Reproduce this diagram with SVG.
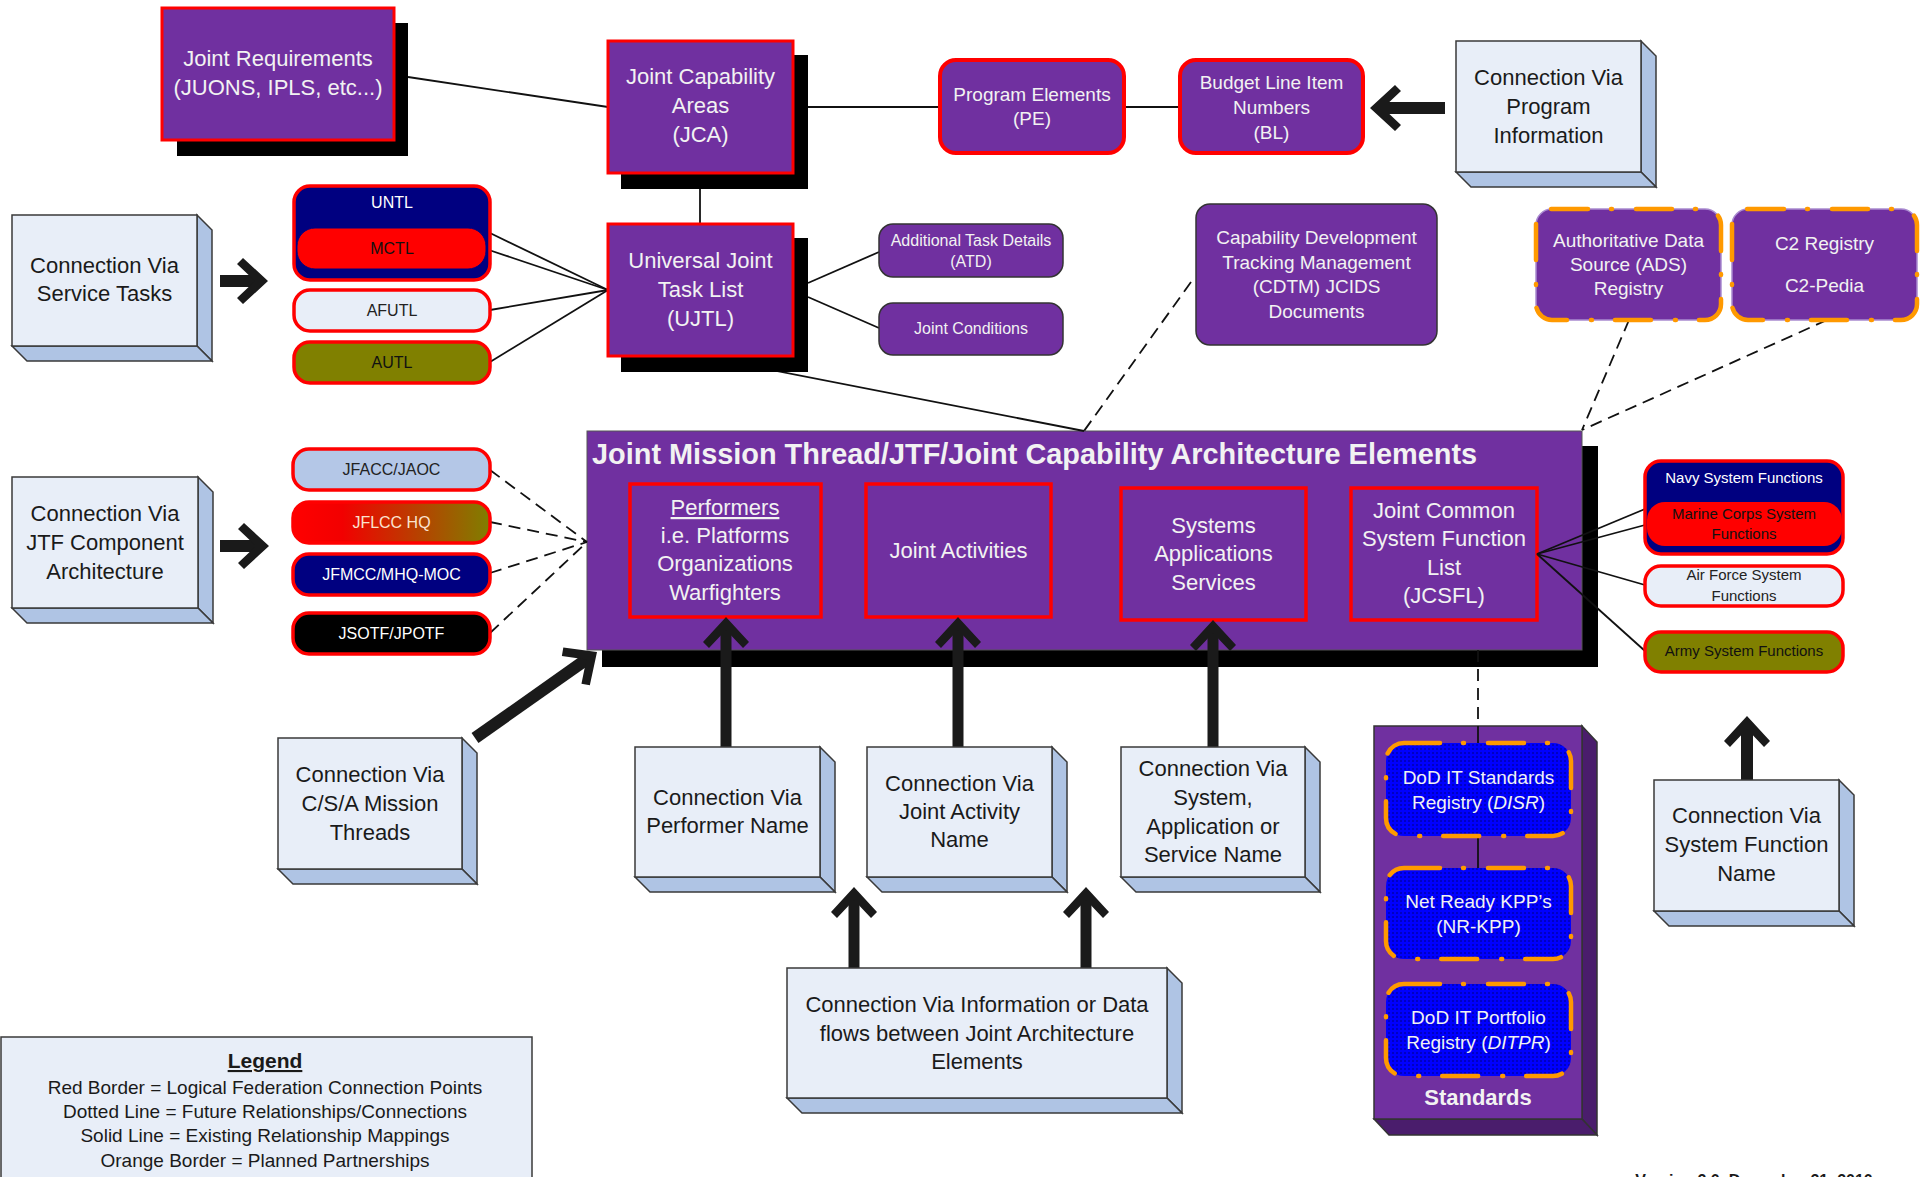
<svg xmlns="http://www.w3.org/2000/svg" xmlns:xlink="http://www.w3.org/1999/xlink" width="1920" height="1177" viewBox="0 0 1920 1177">
<style>
text{font-family:"Liberation Sans",Arial,sans-serif;text-anchor:middle}
.w{fill:#F2F2F2}
.k{fill:#1a1a1a}
.f22{font-size:22px}
.f19{font-size:19px}
.f16{font-size:16px}
.f15{font-size:15px}
.b{font-weight:bold}
.pur{fill:#7030A0}
.redb{stroke:#FF0000;stroke-width:3.5}
.shadow{fill:#000}
.front{fill:#E8EEF8;stroke:#3a3a3a;stroke-width:1.5}
.side{fill:#AFC4E4;stroke:#3a3a3a;stroke-width:1.5}
.dk{stroke:#333;stroke-width:1.5}
.org{fill:none;stroke:#FF9900;stroke-width:4.5;stroke-dasharray:36 23 1 24;stroke-linecap:round}
.lav{stroke:#A98AD0;stroke-width:1.5}
.ln{stroke:#111;stroke-width:1.8;fill:none}
.ds{stroke:#111;stroke-width:1.8;fill:none;stroke-dasharray:12 7}
.shaft{stroke:#1a1a1a;fill:none}
</style>
<defs>
<path id="ah" d="M0,0 L23,25 L17,31 L0,13 L-17,31 L-23,25 Z" fill="#1a1a1a"/>
<linearGradient id="jflcc" x1="0" y1="0" x2="1" y2="0">
<stop offset="0" stop-color="#FF0000"/>
<stop offset="0.25" stop-color="#F20000"/>
<stop offset="1" stop-color="#7F7F00"/>
</linearGradient>
<pattern id="dots" width="4" height="4" patternUnits="userSpaceOnUse">
<rect width="4" height="4" fill="#0000FF"/>
<circle cx="1" cy="1" r="0.75" fill="#000066"/>
</pattern>
</defs>

<!-- Main JMT container -->
<g id="jmt">
<rect x="602" y="446" width="996" height="221" class="shadow"/>
<rect x="587" y="431" width="995" height="219" class="pur" stroke="#555" stroke-width="1"/>
<text x="592" y="464" class="w b" style="font-size:28.9px;text-anchor:start">Joint Mission Thread/JTF/Joint Capability Architecture Elements</text>
</g>
<g id="performers">
<rect x="630" y="484" width="191" height="133" class="pur redb"/>
<text class="w f22" x="725" y="515" text-decoration="underline">Performers</text>
<text class="w f22" x="725" y="543">i.e. Platforms</text>
<text class="w f22" x="725" y="571">Organizations</text>
<text class="w f22" x="725" y="600">Warfighters</text>
</g>
<g id="joint-activities">
<rect x="866" y="484" width="185" height="133" class="pur redb"/>
<text class="w f22" x="958.5" y="558">Joint Activities</text>
</g>
<g id="systems">
<rect x="1121" y="488" width="185" height="132" class="pur redb"/>
<text class="w f22" x="1213.5" y="533">Systems</text>
<text class="w f22" x="1213.5" y="561">Applications</text>
<text class="w f22" x="1213.5" y="590">Services</text>
</g>
<g id="jcsfl">
<rect x="1351" y="488" width="186" height="132" class="pur redb"/>
<text class="w f22" x="1444" y="518">Joint Common</text>
<text class="w f22" x="1444" y="546">System Function</text>
<text class="w f22" x="1444" y="575">List</text>
<text class="w f22" x="1444" y="603">(JCSFL)</text>
</g>

<!-- Standards container -->
<g id="standards">
<polygon points="1582,726 1597,742 1597,1135 1582,1119" fill="#4A1D6C" stroke="#333" stroke-width="1.5"/>
<polygon points="1374,1119 1582,1119 1597,1135 1389,1135" fill="#4A1D6C" stroke="#333" stroke-width="1.5"/>
<rect x="1374" y="726" width="208" height="393" class="pur" stroke="#333" stroke-width="1.5"/>
<text class="w b f22" x="1478" y="1105">Standards</text>
</g>

<!-- Connectors -->
<g id="connectors">
<line class="ln" x1="408" y1="77" x2="608" y2="107"/>
<line class="ln" x1="700" y1="173" x2="700" y2="224"/>
<line class="ln" x1="793" y1="107" x2="940" y2="107"/>
<line class="ln" x1="1124" y1="107" x2="1180" y2="107"/>
<line class="ln" x1="608" y1="290" x2="490" y2="233"/>
<line class="ln" x1="608" y1="290" x2="486" y2="249"/>
<line class="ln" x1="608" y1="290" x2="490" y2="310"/>
<line class="ln" x1="608" y1="290" x2="490" y2="362"/>
<line class="ln" x1="808" y1="283" x2="879" y2="252"/>
<line class="ln" x1="808" y1="297" x2="879" y2="328"/>
<line class="ln" x1="700" y1="356" x2="1084" y2="431"/>
<line class="ds" x1="1191" y1="282" x2="1084" y2="431"/>
<line class="ds" x1="1629" y1="320" x2="1582" y2="430"/>
<line class="ds" x1="1827" y1="320" x2="1582" y2="430"/>
<line class="ds" x1="490" y1="470" x2="587" y2="542"/>
<line class="ds" x1="490" y1="522" x2="587" y2="542"/>
<line class="ds" x1="490" y1="573" x2="587" y2="542"/>
<line class="ds" x1="490" y1="633" x2="587" y2="542"/>
<line class="ln" x1="1537" y1="554" x2="1645" y2="509"/>
<line class="ln" x1="1537" y1="554" x2="1645" y2="525"/>
<line class="ln" x1="1537" y1="554" x2="1645" y2="585"/>
<line class="ln" x1="1537" y1="554" x2="1645" y2="651"/>
<line class="ds" x1="1478" y1="650" x2="1478" y2="726"/>
<line class="ln" x1="1478" y1="726" x2="1478" y2="868" stroke-width="1.5"/>
<!-- thick arrows -->
<line class="shaft" stroke-width="12" x1="220" y1="281" x2="256" y2="281"/>
<use xlink:href="#ah" transform="translate(268,281) rotate(90)"/>
<line class="shaft" stroke-width="12" x1="220" y1="546" x2="257" y2="546"/>
<use xlink:href="#ah" transform="translate(269,546) rotate(90)"/>
<line class="shaft" stroke-width="12" x1="1445" y1="108" x2="1382" y2="108"/>
<use xlink:href="#ah" transform="translate(1370,108) rotate(-90)"/>
<line class="shaft" stroke-width="12" x1="475" y1="738" x2="587" y2="659"/>
<use xlink:href="#ah" transform="translate(597,652) rotate(54.8)"/>
<line class="shaft" stroke-width="11" x1="726" y1="747" x2="726" y2="629"/>
<use xlink:href="#ah" transform="translate(726,617)"/>
<line class="shaft" stroke-width="11" x1="958" y1="747" x2="958" y2="629"/>
<use xlink:href="#ah" transform="translate(958,617)"/>
<line class="shaft" stroke-width="11" x1="1213" y1="747" x2="1213" y2="632"/>
<use xlink:href="#ah" transform="translate(1213,620)"/>
<line class="shaft" stroke-width="11" x1="854" y1="968" x2="854" y2="899"/>
<use xlink:href="#ah" transform="translate(854,887)"/>
<line class="shaft" stroke-width="11" x1="1086" y1="968" x2="1086" y2="899"/>
<use xlink:href="#ah" transform="translate(1086,887)"/>
<line class="shaft" stroke-width="12" x1="1747" y1="780" x2="1747" y2="728"/>
<use xlink:href="#ah" transform="translate(1747,716)"/>
</g>

<!-- Top nodes -->
<g id="joint-requirements">
<rect x="177" y="23" width="231" height="133" class="shadow"/>
<rect x="162" y="8" width="232" height="132" class="pur" stroke="#FF0000" stroke-width="3"/>
<text class="w f22" x="278" y="66">Joint Requirements</text>
<text class="w f22" x="278" y="95">(JUONS, IPLS, etc...)</text>
</g>
<g id="jca">
<rect x="621" y="55" width="187" height="134" class="shadow"/>
<rect x="608" y="41" width="185" height="132" class="pur" stroke="#FF0000" stroke-width="3"/>
<text class="w f22" x="700.5" y="84">Joint Capability</text>
<text class="w f22" x="700.5" y="113">Areas</text>
<text class="w f22" x="700.5" y="142">(JCA)</text>
</g>
<g id="ujtl">
<rect x="621" y="238" width="187" height="134" class="shadow"/>
<rect x="608" y="224" width="185" height="132" class="pur" stroke="#FF0000" stroke-width="3"/>
<text class="w f22" x="700.5" y="268">Universal Joint</text>
<text class="w f22" x="700.5" y="297">Task List</text>
<text class="w f22" x="700.5" y="326">(UJTL)</text>
</g>
<g id="pe">
<rect x="940" y="60" width="184" height="93" rx="16" class="pur" stroke="#FF0000" stroke-width="4"/>
<text class="w f19" x="1032" y="101">Program Elements</text>
<text class="w f19" x="1032" y="125">(PE)</text>
</g>
<g id="bl">
<rect x="1180" y="60" width="183" height="93" rx="16" class="pur" stroke="#FF0000" stroke-width="4"/>
<text class="w f19" x="1271.5" y="89">Budget Line Item</text>
<text class="w f19" x="1271.5" y="114">Numbers</text>
<text class="w f19" x="1271.5" y="139">(BL)</text>
</g>
<g id="conn-program-info">
<polygon class="side" points="1641,41 1656,56 1656,187 1641,172"/>
<polygon class="side" points="1456,172 1641,172 1656,187 1471,187"/>
<rect class="front" x="1456" y="41" width="185" height="131"/>
<text class="k f22" x="1548.5" y="85">Connection Via</text>
<text class="k f22" x="1548.5" y="114">Program</text>
<text class="k f22" x="1548.5" y="143">Information</text>
</g>
<g id="atd">
<rect x="879" y="224" width="184" height="53" rx="14" class="pur dk"/>
<text class="w f16" x="971" y="246">Additional Task Details</text>
<text class="w f16" x="971" y="267">(ATD)</text>
</g>
<g id="joint-conditions">
<rect x="879" y="303" width="184" height="52" rx="14" class="pur dk"/>
<text class="w f16" x="971" y="334">Joint Conditions</text>
</g>
<g id="cdtm">
<rect x="1196" y="204" width="241" height="141" rx="14" class="pur dk"/>
<text class="w f19" x="1316.5" y="244">Capability Development</text>
<text class="w f19" x="1316.5" y="269">Tracking Management</text>
<text class="w f19" x="1316.5" y="293">(CDTM) JCIDS</text>
<text class="w f19" x="1316.5" y="318">Documents</text>
</g>
<g id="ads">
<rect x="1536" y="209" width="185" height="111" rx="16" class="pur lav"/>
<rect x="1536" y="209" width="185" height="111" rx="16" class="org"/>
<text class="w f19" x="1628.5" y="247">Authoritative Data</text>
<text class="w f19" x="1628.5" y="271">Source (ADS)</text>
<text class="w f19" x="1628.5" y="295">Registry</text>
</g>
<g id="c2">
<rect x="1732" y="209" width="185" height="111" rx="16" class="pur lav"/>
<rect x="1732" y="209" width="185" height="111" rx="16" class="org"/>
<text class="w f19" x="1824.5" y="250">C2 Registry</text>
<text class="w f19" x="1824.5" y="292">C2-Pedia</text>
</g>

<!-- Service task lists -->
<g id="conn-service-tasks">
<polygon class="side" points="197,215 212,230 212,361 197,346"/>
<polygon class="side" points="12,346 197,346 212,361 27,361"/>
<rect class="front" x="12" y="215" width="185" height="131"/>
<text class="k f22" x="104.5" y="273">Connection Via</text>
<text class="k f22" x="104.5" y="301">Service Tasks</text>
</g>
<g id="untl">
<rect x="294" y="186" width="196" height="94" rx="16" fill="#000080" class="redb"/>
<text class="f16" fill="#FFFFFF" x="392" y="208">UNTL</text>
</g>
<g id="mctl">
<rect x="297" y="228" width="189" height="41" rx="18" fill="#FF0000" stroke="#000080" stroke-width="1"/>
<text class="f16" fill="#111" x="392" y="254">MCTL</text>
</g>
<g id="afutl">
<rect x="294" y="290" width="196" height="41" rx="16" fill="#E8EEF8" class="redb"/>
<text class="f16" fill="#222" x="392" y="316">AFUTL</text>
</g>
<g id="autl">
<rect x="294" y="342" width="196" height="41" rx="16" fill="#808000" class="redb"/>
<text class="f16" fill="#111" x="392" y="368">AUTL</text>
</g>

<!-- JTF components -->
<g id="conn-jtf">
<polygon class="side" points="198,477 213,492 213,623 198,608"/>
<polygon class="side" points="12,608 198,608 213,623 27,623"/>
<rect class="front" x="12" y="477" width="186" height="131"/>
<text class="k f22" x="105" y="521">Connection Via</text>
<text class="k f22" x="105" y="550">JTF Component</text>
<text class="k f22" x="105" y="579">Architecture</text>
</g>
<g id="jfacc">
<rect x="293" y="449" width="197" height="41" rx="16" fill="#B4C7E7" class="redb"/>
<text class="f16" fill="#222" x="391.5" y="475">JFACC/JAOC</text>
</g>
<g id="jflcc">
<rect x="293" y="502" width="197" height="41" rx="16" fill="url(#jflcc)" class="redb"/>
<text class="f16" fill="#FBE3CF" x="391.5" y="528">JFLCC HQ</text>
</g>
<g id="jfmcc">
<rect x="293" y="554" width="197" height="41" rx="16" fill="#000080" class="redb"/>
<text class="f16" fill="#FFFFFF" x="391.5" y="580">JFMCC/MHQ-MOC</text>
</g>
<g id="jsotf">
<rect x="293" y="613" width="197" height="41" rx="16" fill="#000000" class="redb"/>
<text class="f16" fill="#FFFFFF" x="391.5" y="639">JSOTF/JPOTF</text>
</g>

<!-- Right system functions -->
<g id="navy">
<rect x="1645" y="461" width="198" height="93" rx="16" fill="#000080" class="redb"/>
<text class="f15" fill="#FFFFFF" x="1744" y="483">Navy System Functions</text>
</g>
<g id="marine">
<rect x="1647" y="502" width="195" height="44" rx="18" fill="#FF0000"/>
<text class="f15" fill="#111" x="1744" y="519">Marine Corps System</text>
<text class="f15" fill="#111" x="1744" y="539">Functions</text>
</g>
<g id="airforce">
<rect x="1645" y="566" width="198" height="40" rx="16" fill="#E8EEF8" class="redb"/>
<text class="f15" fill="#222" x="1744" y="580">Air Force System</text>
<text class="f15" fill="#222" x="1744" y="601">Functions</text>
</g>
<g id="army">
<rect x="1645" y="632" width="198" height="40" rx="16" fill="#808000" class="redb"/>
<text class="f15" fill="#111" x="1744" y="656">Army System Functions</text>
</g>

<!-- Bottom connection boxes -->
<g id="conn-csa">
<polygon class="side" points="462,738 477,753 477,884 462,869"/>
<polygon class="side" points="278,869 462,869 477,884 293,884"/>
<rect class="front" x="278" y="738" width="184" height="131"/>
<text class="k f22" x="370" y="782">Connection Via</text>
<text class="k f22" x="370" y="811">C/S/A Mission</text>
<text class="k f22" x="370" y="840">Threads</text>
</g>
<g id="conn-performer">
<polygon class="side" points="820,747 835,762 835,892 820,877"/>
<polygon class="side" points="635,877 820,877 835,892 650,892"/>
<rect class="front" x="635" y="747" width="185" height="130"/>
<text class="k f22" x="727.5" y="805">Connection Via</text>
<text class="k f22" x="727.5" y="833">Performer Name</text>
</g>
<g id="conn-activity">
<polygon class="side" points="1052,747 1067,762 1067,892 1052,877"/>
<polygon class="side" points="867,877 1052,877 1067,892 882,892"/>
<rect class="front" x="867" y="747" width="185" height="130"/>
<text class="k f22" x="959.5" y="791">Connection Via</text>
<text class="k f22" x="959.5" y="819">Joint Activity</text>
<text class="k f22" x="959.5" y="847">Name</text>
</g>
<g id="conn-system">
<polygon class="side" points="1305,747 1320,762 1320,892 1305,877"/>
<polygon class="side" points="1121,877 1305,877 1320,892 1136,892"/>
<rect class="front" x="1121" y="747" width="184" height="130"/>
<text class="k f22" x="1213" y="776">Connection Via</text>
<text class="k f22" x="1213" y="805">System,</text>
<text class="k f22" x="1213" y="834">Application or</text>
<text class="k f22" x="1213" y="862">Service Name</text>
</g>
<g id="conn-info">
<polygon class="side" points="1167,968 1182,983 1182,1113 1167,1098"/>
<polygon class="side" points="787,1098 1167,1098 1182,1113 802,1113"/>
<rect class="front" x="787" y="968" width="380" height="130"/>
<text class="k f22" x="977" y="1012">Connection Via Information or Data</text>
<text class="k f22" x="977" y="1041">flows between Joint Architecture</text>
<text class="k f22" x="977" y="1069">Elements</text>
</g>
<g id="conn-sysfunc">
<polygon class="side" points="1839,780 1854,795 1854,926 1839,911"/>
<polygon class="side" points="1654,911 1839,911 1854,926 1669,926"/>
<rect class="front" x="1654" y="780" width="185" height="131"/>
<text class="k f22" x="1746.5" y="823">Connection Via</text>
<text class="k f22" x="1746.5" y="852">System Function</text>
<text class="k f22" x="1746.5" y="881">Name</text>
</g>

<!-- Standards members -->
<g id="disr">
<rect x="1386" y="743" width="185" height="93" rx="18" fill="url(#dots)"/>
<rect x="1386" y="743" width="185" height="93" rx="18" class="org"/>
<text class="w f19" x="1478.5" y="784">DoD IT Standards</text>
<text class="w f19" x="1478.5" y="809">Registry (<tspan font-style="italic">DISR</tspan>)</text>
</g>
<g id="nr-kpp">
<rect x="1386" y="868" width="185" height="91" rx="18" fill="url(#dots)"/>
<rect x="1386" y="868" width="185" height="91" rx="18" class="org"/>
<text class="w f19" x="1478.5" y="908">Net Ready KPP’s</text>
<text class="w f19" x="1478.5" y="933">(NR-KPP)</text>
</g>
<g id="ditpr">
<rect x="1386" y="984" width="185" height="92" rx="18" fill="url(#dots)"/>
<rect x="1386" y="984" width="185" height="92" rx="18" class="org"/>
<text class="w f19" x="1478.5" y="1024">DoD IT Portfolio</text>
<text class="w f19" x="1478.5" y="1049">Registry (<tspan font-style="italic">DITPR</tspan>)</text>
</g>

<!-- Legend -->
<g id="legend">
<rect x="1" y="1037" width="531" height="150" fill="#E8EEF8" stroke="#3a3a3a" stroke-width="1.5"/>
<text class="k b" x="265" y="1068" style="font-size:21px" text-decoration="underline">Legend</text>
<text class="k f19" x="265" y="1094">Red Border = Logical Federation Connection Points</text>
<text class="k f19" x="265" y="1118">Dotted Line = Future Relationships/Connections</text>
<text class="k f19" x="265" y="1142">Solid Line = Existing Relationship Mappings</text>
<text class="k f19" x="265" y="1167">Orange Border = Planned Partnerships</text>
</g>
<text class="k b f16" x="1754" y="1186">Version 2.0, December 21, 2010</text>
</svg>
